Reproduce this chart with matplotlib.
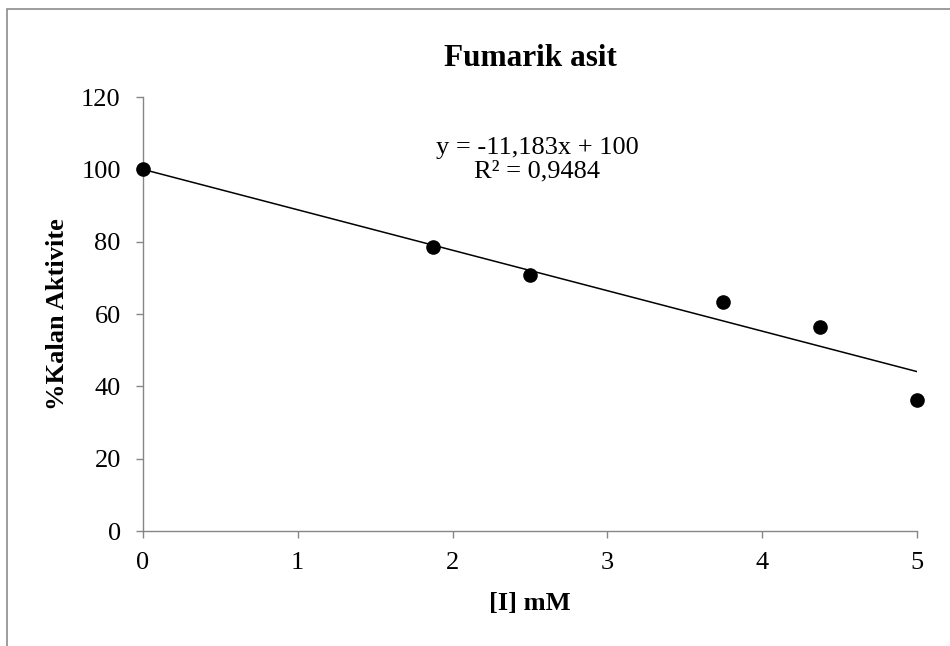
import numpy as np
import matplotlib
matplotlib.use("Agg")
from matplotlib import pyplot as plt
from matplotlib.patches import Rectangle

# data
conc_mM = [0, 1.875, 2.5, 3.75, 4.375, 5]
kalan_aktivite = [100, 78.6, 70.9, 63.2, 56.4, 36.2]

# linear trendline as given in the label (intercept fixed at 100)
slope = -11.183
intercept = 100
r_squared = 0.9484

x_ticks = [0, 1, 2, 3, 4, 5]
y_ticks = [0, 20, 40, 60, 80, 100, 120]

plt.rcParams['font.family'] = ['Liberation Serif', 'DejaVu Serif']
axis_gray = '#868686'

fig = plt.figure(figsize=(9.5, 6.46), dpi=100)
ax = fig.add_axes([0.1505, 0.178, 0.8147, 0.6718])

# chart border (cropped on right and bottom)
border = Rectangle((7 / 950, -0.05), 1.2, 1 - 9 / 646 + 0.05, transform=fig.transFigure,
                   fill=False, edgecolor='#8c8c8c', linewidth=1.2, clip_on=False)
fig.patches.append(border)

# trendline
xs = np.array([min(conc_mM), max(conc_mM)])
ax.plot(xs, slope * xs + intercept, color='black', linewidth=1.1, zorder=2)

# data points
ax.plot(conc_mM, kalan_aktivite, 'o', color='black', markersize=9.5, zorder=3, clip_on=False)

ax.set_xlim(0, 5)
ax.set_ylim(0, 120)
ax.set_xticks(x_ticks)
ax.set_yticks(y_ticks)

for side in ['top', 'right']:
    ax.spines[side].set_visible(False)
for side in ['left', 'bottom']:
    ax.spines[side].set_color(axis_gray)
    ax.spines[side].set_linewidth(1.0)

ax.tick_params(axis='both', colors=axis_gray, labelcolor='black', labelsize=19,
               length=5, width=1.0, direction='out')
ax.tick_params(axis='x', pad=10)
ax.tick_params(axis='y', pad=11)

ax.set_title('Fumarik asit', fontsize=22.5, fontweight='bold', pad=22)
ax.set_xlabel('[I] mM', fontsize=19, fontweight='bold', labelpad=13)
ax.set_ylabel('%Kalan Aktivite', fontsize=19, fontweight='bold', labelpad=9)

eq_text = 'y = {:.3f}x + {}\nR² = {:.4f}'.format(slope, intercept, r_squared).replace('.', ',')
ax.text(2.545, 102.6, eq_text, ha='center', va='center', fontsize=19, linespacing=1.1)

fig.savefig('out.png', dpi=100)
